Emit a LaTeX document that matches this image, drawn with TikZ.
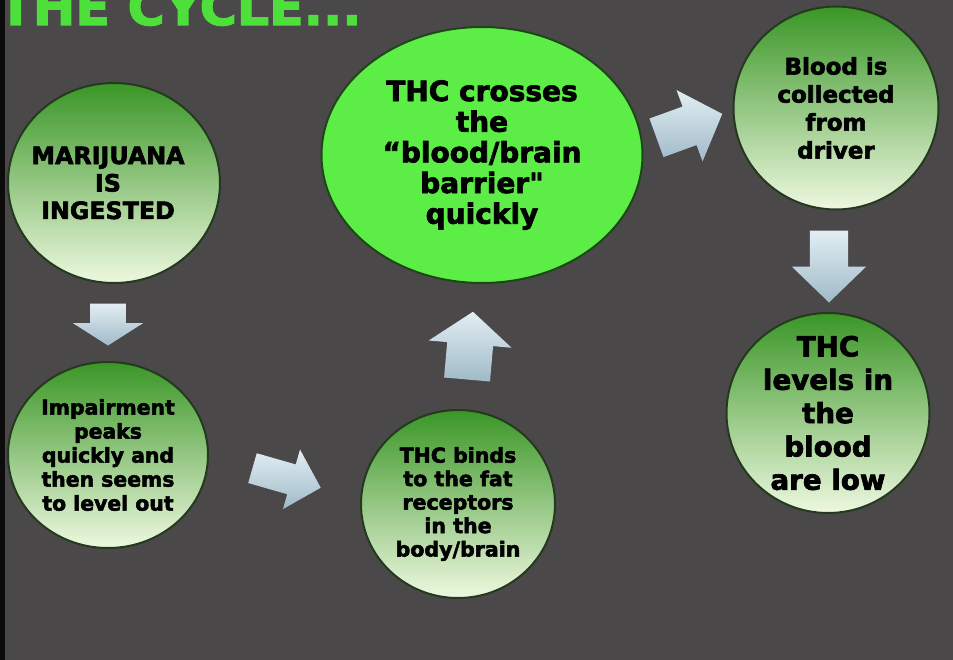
\documentclass[tikz,border=0pt]{standalone}
\usepackage{fontspec}
\setmainfont{DejaVu Sans}[BoldFeatures={FakeBold=2.5}]
\usetikzlibrary{shapes.geometric,shapes.arrows}

\tikzset{every picture/.style={line width=0.75pt}}
\tikzset{
  bubble/.style={ellipse, inner sep=0pt, draw={rgb,255:red,36;green,58;blue,30}, line width=1.5pt,
    top color={rgb,255:red,58;green,150;blue,38}, middle color={rgb,255:red,165;green,212;blue,112},
    bottom color={rgb,255:red,238;green,248;blue,224}},
  brightbubble/.style={ellipse, inner sep=0pt, draw={rgb,255:red,30;green,70;blue,25}, line width=1.5pt,
    fill={rgb,255:red,92;green,238;blue,70}},
  bubbletxt/.style={align=center, text=black, inner sep=0pt},
  blockarr/.style={single arrow, draw=none, anchor=tail, inner xsep=0pt,
    top color={rgb,255:red,226;green,238;blue,243}, bottom color={rgb,255:red,160;green,186;blue,200}},
}

\begin{document}
\begin{tikzpicture}[x=0.75pt,y=0.75pt,yscale=-1,xscale=1]
	\useasboundingbox (0,0) rectangle (953,660);
	%Shape: Rectangle (board)
	\fill [fill={rgb,255:red,74;green,72;blue,73}] (0,0) rectangle (953,660);
	\fill [fill={rgb,255:red,12;green,12;blue,12}] (0,0) rectangle (5,660);

	% Text Node
	\draw (362,25) node [anchor=base east, inner sep=0pt, text={rgb,255:red,78;green,224;blue,58}, font=\fontsize{38}{40}\selectfont\bfseries] (title) {THE CYCLE...};

	%Shape: Ellipse
	\draw (114,183) node [bubble, minimum width=159pt, minimum height=150pt] (ingest) {};
	%Shape: Ellipse
	\draw (108,455) node [bubble, minimum width=150pt, minimum height=139.5pt] (peak) {};
	%Shape: Ellipse
	\draw (458,504) node [bubble, minimum width=145.5pt, minimum height=141pt] (binds) {};
	%Shape: Ellipse
	\draw (482,155) node [brightbubble, minimum width=240.75pt, minimum height=192pt] (cross) {};
	%Shape: Ellipse
	\draw (836,108) node [bubble, minimum width=153.75pt, minimum height=152.25pt] (collect) {};
	%Shape: Ellipse
	\draw (828,413) node [bubble, minimum width=152.25pt, minimum height=150pt] (low) {};

	% Text Node
	\draw (108,183) node [bubbletxt, font=\fontsize{17.8}{20.6}\selectfont\bfseries] (ingestT) {MARIJUANA\\IS\\INGESTED};
	% Text Node
	\draw (peak) node [bubbletxt, font=\fontsize{15.3}{18}\selectfont\bfseries] (peakT) {Impairment\\peaks\\quickly and\\then seems\\to level out};
	% Text Node
	\draw (binds) node [bubbletxt, font=\fontsize{15.4}{17.6}\selectfont\bfseries] (bindsT) {THC binds\\to the fat\\receptors\\in the\\body/brain};
	% Text Node
	\draw (cross) node [bubbletxt, font=\fontsize{21}{23}\selectfont\bfseries] (crossT) {THC crosses\\the\\“blood/brain\\barrier\textquotedbl\\quickly};
	% Text Node
	\draw (collect) node [bubbletxt, font=\fontsize{17.2}{21}\selectfont\bfseries] (collectT) {Blood is\\collected\\from\\driver};
	% Text Node
	\draw (low) node [bubbletxt, font=\fontsize{20.8}{25}\selectfont\bfseries] (lowT) {THC\\levels in\\the\\blood\\are low};

	%Shape: Down Arrow
	\draw (108,303) node [blockarr, rotate=-90, inner ysep=13.1pt, single arrow head extend=12.75pt, minimum height=31.5pt, single arrow tip angle=115] (arrA) {};
	%Shape: Right Arrow
	\draw (252,468) node [blockarr, rotate=-16, inner ysep=11.25pt, single arrow head extend=11.6pt, minimum height=53.25pt, single arrow tip angle=91] (arrB) {};
	%Shape: Up Arrow
	\draw (467,380) node [blockarr, rotate=85, inner ysep=16.9pt, single arrow head extend=13.9pt, minimum height=51pt, single arrow tip angle=104] (arrC) {};
	%Shape: Right Arrow
	\draw (656,138) node [blockarr, rotate=20, inner ysep=15pt, single arrow head extend=13.1pt, minimum height=52.5pt, single arrow tip angle=95] (arrD) {};
	%Shape: Down Arrow
	\draw (829,230) node [blockarr, rotate=-90, inner ysep=13.9pt, single arrow head extend=13.5pt, minimum height=54pt, single arrow tip angle=92] (arrE) {};

\end{tikzpicture}
\end{document}
